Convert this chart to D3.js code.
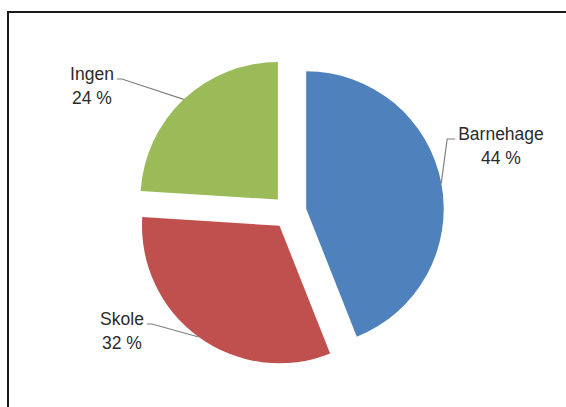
<!DOCTYPE html>
<html>
<head>
<meta charset="utf-8">
<script src="https://cdn.jsdelivr.net/npm/d3@7"></script>
<style>
  html, body { margin: 0; padding: 0; background: #fff; }
  svg { display: block; }
</style>
</head>
<body>
<svg id="chart" width="566" height="407"></svg>
<script>
// ---- data ----
const categories = ["Barnehage", "Skole", "Ingen"];
const values = [44, 32, 24];
const valueLabels = ["44 %", "32 %", "24 %"];
const colors = ["#4F81BD", "#C0504D", "#9BBB59"];

// ---- layout ----
const W = 566, H = 407;
const cx = 289.5, cy = 212, radius = 137.5, explode = 17;
// label anchor: text centre x, first-line baseline, side of the leader attachment
const labelLayout = [
  { x: 501, y: 140, side: "left",  elbow: -8 },
  { x: 122, y: 325, side: "right", elbow: 5 },
  { x: 92,  y: 80,  side: "right", elbow: 5 }
];

const svg = d3.select("#chart");

// chart border (extends beyond right / bottom of the view)
svg.append("rect")
  .attr("x", 8).attr("y", 12)
  .attr("width", 620).attr("height", 440)
  .attr("fill", "#fff")
  .attr("stroke", "#1a1a1a")
  .attr("stroke-width", 2);

const pie = d3.pie().sort(null).value(d => d)(values);
const arc = d3.arc().innerRadius(0).outerRadius(radius);
const edge = d3.arc().innerRadius(radius).outerRadius(radius);

const g = svg.append("g").attr("transform", `translate(${cx},${cy})`);

function offset(d) {
  const mid = (d.startAngle + d.endAngle) / 2;
  return [Math.sin(mid) * explode, -Math.cos(mid) * explode];
}

g.selectAll("path.slice")
  .data(pie)
  .join("path")
  .attr("class", "slice")
  .attr("d", arc)
  .attr("fill", (d, i) => colors[i])
  .attr("transform", d => { const o = offset(d); return `translate(${o[0]},${o[1]})`; });

// labels + leader lines
const font = "'Liberation Sans', Arial, sans-serif";
pie.forEach((d, i) => {
  const L = labelLayout[i];
  const t = svg.append("text")
    .attr("font-family", font)
    .attr("font-size", 17.5)
    .attr("fill", "#2b2b2b")
    .attr("text-anchor", "middle");
  t.append("tspan").attr("x", L.x).attr("y", L.y).text(categories[i]);
  t.append("tspan").attr("x", L.x).attr("y", L.y + 23.5).text(valueLabels[i]);

  const first = t.select("tspan").node().getComputedTextLength();
  const o = offset(d);
  const c = edge.centroid(d);
  const px = cx + o[0] + c[0], py = cy + o[1] + c[1];
  const ax = L.side === "left" ? L.x - first / 2 - 3 : L.x + first / 2 + 3;
  const ay = L.y - 1;
  svg.append("polyline")
    .attr("points", [[ax, ay], [ax + L.elbow, ay], [px, py]].map(p => p.join(",")).join(" "))
    .attr("fill", "none")
    .attr("stroke", "#7f7f7f")
    .attr("stroke-width", 1.2);
});
</script>
</body>
</html>
